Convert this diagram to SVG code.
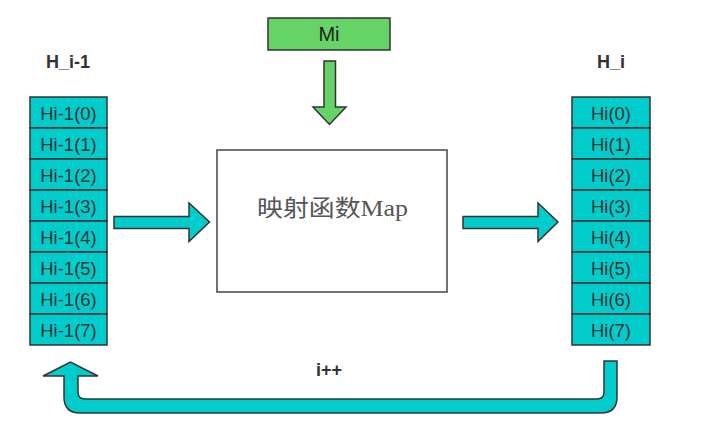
<svg xmlns="http://www.w3.org/2000/svg" width="711" height="423" viewBox="0 0 711 423">
<style>
.cell{fill:#00CCCC;stroke:#333;stroke-width:1.5}
.ct{font-family:"Liberation Sans",Arial,sans-serif;font-size:18.5px;fill:#333;text-anchor:middle}
.hd{font-family:"Liberation Sans",Arial,sans-serif;font-size:18px;font-weight:bold;fill:#333;text-anchor:middle}
.cy{fill:#00CCCC;stroke:#333;stroke-width:1.5;stroke-linejoin:miter}
</style>
<rect width="711" height="423" fill="#fff"/>
<text class="hd" x="68" y="68">H_i-1</text>
<text class="hd" x="611" y="68">H_i</text>
<g id="left-column">
<rect class="cell" x="30" y="97" width="77" height="31"/><text class="ct" x="68.5" y="119.5">Hi-1(0)</text>
<rect class="cell" x="30" y="128" width="77" height="31"/><text class="ct" x="68.5" y="150.5">Hi-1(1)</text>
<rect class="cell" x="30" y="159" width="77" height="31"/><text class="ct" x="68.5" y="181.5">Hi-1(2)</text>
<rect class="cell" x="30" y="190" width="77" height="31"/><text class="ct" x="68.5" y="212.5">Hi-1(3)</text>
<rect class="cell" x="30" y="221" width="77" height="31"/><text class="ct" x="68.5" y="243.5">Hi-1(4)</text>
<rect class="cell" x="30" y="252" width="77" height="31"/><text class="ct" x="68.5" y="274.5">Hi-1(5)</text>
<rect class="cell" x="30" y="283" width="77" height="31"/><text class="ct" x="68.5" y="305.5">Hi-1(6)</text>
<rect class="cell" x="30" y="314" width="77" height="31"/><text class="ct" x="68.5" y="336.5">Hi-1(7)</text>
</g>
<g id="right-column">
<rect class="cell" x="572" y="97" width="78" height="31"/><text class="ct" x="611" y="119.5">Hi(0)</text>
<rect class="cell" x="572" y="128" width="78" height="31"/><text class="ct" x="611" y="150.5">Hi(1)</text>
<rect class="cell" x="572" y="159" width="78" height="31"/><text class="ct" x="611" y="181.5">Hi(2)</text>
<rect class="cell" x="572" y="190" width="78" height="31"/><text class="ct" x="611" y="212.5">Hi(3)</text>
<rect class="cell" x="572" y="221" width="78" height="31"/><text class="ct" x="611" y="243.5">Hi(4)</text>
<rect class="cell" x="572" y="252" width="78" height="31"/><text class="ct" x="611" y="274.5">Hi(5)</text>
<rect class="cell" x="572" y="283" width="78" height="31"/><text class="ct" x="611" y="305.5">Hi(6)</text>
<rect class="cell" x="572" y="314" width="78" height="31"/><text class="ct" x="611" y="336.5">Hi(7)</text>
</g>
<g id="mi">
<rect x="268" y="18" width="122" height="32" fill="#66D366" stroke="#333" stroke-width="1.5"/>
<text x="329" y="41" font-family="'Liberation Sans',Arial,sans-serif" font-size="20" fill="#222" text-anchor="middle">Mi</text>
</g>
<g id="map">
<rect x="217" y="150" width="230" height="142" fill="#fff" stroke="#444" stroke-width="1.5"/>
<text x="257" y="216" font-family="'Liberation Serif','Noto Sans CJK SC',serif" font-size="23" fill="#555" textLength="151" lengthAdjust="spacingAndGlyphs">映射函数Map</text>
</g>
<g id="connectors">
<path d="M324,61 H335.5 V107 H346 L329.5,124.5 L313,107 H324 Z" fill="#66D366" stroke="#333" stroke-width="1.5"/>
<path class="cy" d="M114,216.5 H189 V203 L209.5,222 L189,241.5 V228.5 H114 Z"/>
<path class="cy" d="M463,216.5 H538 V203 L558,222 L538,241.5 V228.5 H463 Z"/>
<path class="cy" d="M604,361 H617 V397 Q617,413 601,413 H80 Q64,413 64,397 V376 H43 L70.5,362 L98,376 H78 V392 Q78,399 85,399 H597 Q604,399 604,392 Z"/>
<text x="329" y="376" font-family="'Liberation Sans',Arial,sans-serif" font-size="18" font-weight="bold" fill="#333" text-anchor="middle">i++</text>
</g>
</svg>
